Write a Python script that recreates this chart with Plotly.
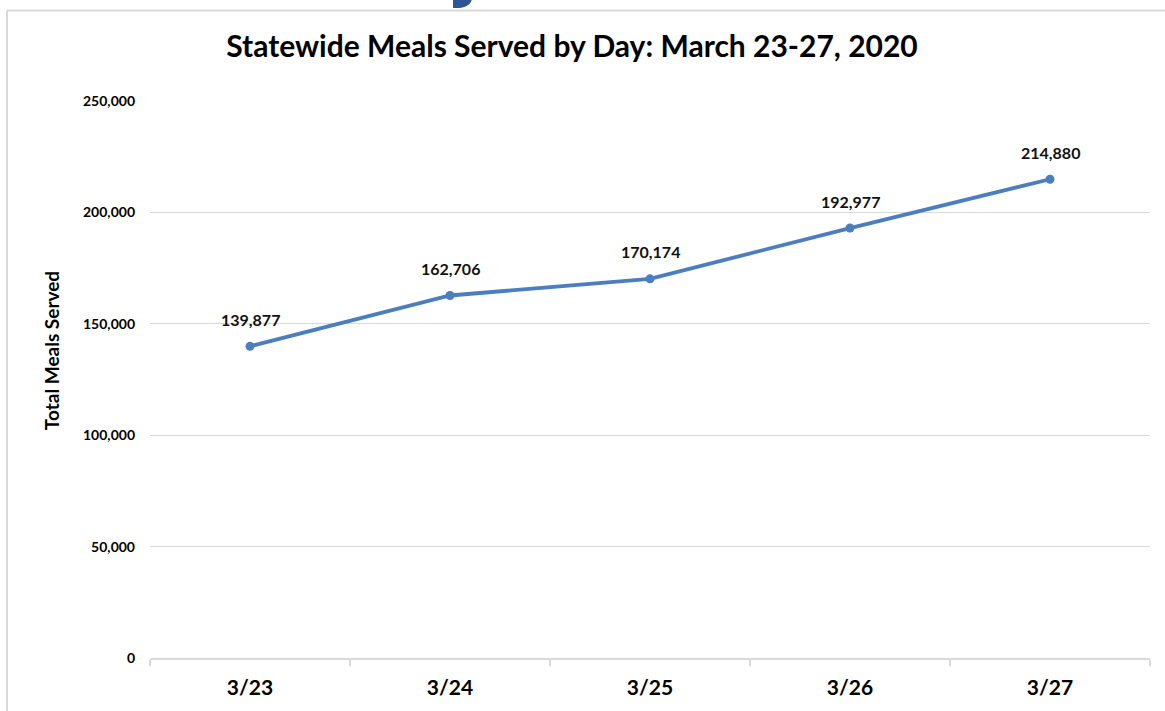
import plotly.graph_objects as go

days = ["3/23", "3/24", "3/25", "3/26", "3/27"]
meals = [139877, 162706, 170174, 192977, 214880]
y_ticks = [0, 50000, 100000, 150000, 200000, 250000]
y_tick_labels = ["0", "50,000", "100,000", "150,000", "200,000", "250,000"]

W, H = 1165, 711
PL, PR, PT, PB = 150, 1150, 101, 661   # plot area in page pixels
L, T, R, B = PL, PT, W - PR, H - PB
FONT = "Lato"
LINE_COLOR = "#4A7EBF"
GRID = "#D9D9D9"

def px_x(p):
    return (p - PL) / (PR - PL)

def px_y(p):
    return (PB - p) / (PB - PT)

fig = go.Figure()
fig.add_trace(go.Scatter(
    x=days, y=meals, mode="lines+markers",
    line=dict(color=LINE_COLOR, width=3.8),
    marker=dict(color=LINE_COLOR, size=9),
    hoverinfo="skip", showlegend=False,
))

for d, v in zip(days, meals):
    fig.add_annotation(x=d, y=v, text=f"{v:,}", showarrow=False,
                       yshift=27, font=dict(family=FONT, size=16, color="#111111", weight="bold"))

# y-axis title
fig.add_annotation(xref="paper", yref="paper", x=px_x(38), y=px_y(352),
                   text="Total Meals Served", textangle=-90, showarrow=False,
                   font=dict(family=FONT, size=19, color="#000000", weight="bold"))

# outer chart border (extends beyond the visible window)
fig.add_shape(type="line", xref="paper", yref="paper",
              x0=px_x(7), x1=px_x(W + 20), y0=px_y(10), y1=px_y(10),
              line=dict(color=GRID, width=2))
fig.add_shape(type="line", xref="paper", yref="paper",
              x0=px_x(7), x1=px_x(7), y0=px_y(10), y1=px_y(H + 20),
              line=dict(color=GRID, width=2))

# partial blue heading glyph cut off at the top
fig.add_shape(type="path", xref="paper", yref="paper",
              path=(f"M {px_x(453)},{px_y(-2)} L {px_x(472)},{px_y(-2)} "
                    f"Q {px_x(471)},{px_y(6)} {px_x(460)},{px_y(7.5)} "
                    f"L {px_x(453)},{px_y(7.5)} Z"),
              fillcolor="#2F5597", line=dict(width=0))

fig.update_layout(
    width=W, height=H,
    margin=dict(l=L, r=R, t=T, b=B),
    paper_bgcolor="white", plot_bgcolor="white",
    title=dict(text="Statewide Meals Served by Day: March 23-27, 2020",
               x=572 / W, xref="container", xanchor="center",
               y=1 - 46 / H, yref="container", yanchor="middle",
               font=dict(family=FONT, size=30, color="#000000", weight="bold")),
    xaxis=dict(type="category", range=[-0.5, 4.5], showgrid=False,
               showline=True, linecolor=GRID, linewidth=1.5,
               ticks="outside", tickson="boundaries", ticklen=6, tickcolor=GRID,
               tickwidth=1.5, ticklabelstandoff=10,
               tickfont=dict(family=FONT, size=21, color="#000000", weight="bold"),
               fixedrange=True),
    yaxis=dict(range=[0, 250000], tickvals=y_ticks, ticktext=y_tick_labels,
               showgrid=True, gridcolor=GRID, gridwidth=1, zeroline=False,
               showline=False, ticks="", ticklabelstandoff=14,
               tickfont=dict(family=FONT, size=14, color="#000000", weight="bold"),
               fixedrange=True),
)

fig.write_html("out.html", config={"displayModeBar": False},
               post_script="document.body.style.margin='0';"
                           "document.body.style.overflow='hidden';")
